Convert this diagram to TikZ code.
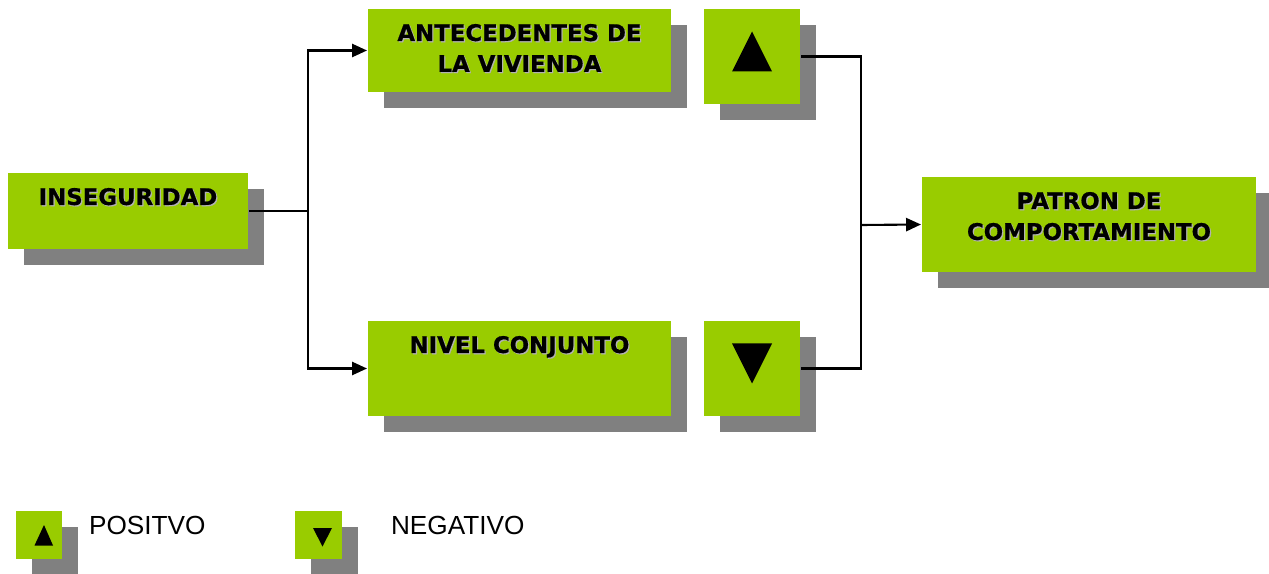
\documentclass[tikz,border=0pt]{standalone}
\usepackage{fontspec}
\newfontfamily\boxfont{DejaVu Sans}[BoldFeatures={FakeBold=0.6}]
\newfontfamily\legfont{Liberation Sans}
\usetikzlibrary{arrows.meta,shadows,calc}
\definecolor{boxgreen}{RGB}{153,204,0}
\newcommand{\shtext}[1]{\leavevmode\rlap{\kern0.7pt\raisebox{-0.7pt}{\color{gray!60}#1}}#1}

\begin{document}
\begin{tikzpicture}[x=0.02cm,y=-0.02cm,>={Triangle[length=8.5pt,width=7.5pt]},line width=1.2pt]
\tikzstyle{box}=[draw=none,fill=boxgreen,inner sep=0pt,drop shadow={shadow xshift=0.32cm,shadow yshift=-0.32cm,fill=gray,opacity=1}]
\tikzstyle{lbl}=[anchor=north,yshift=-0.3cm,inner sep=0pt,align=center,text=black,font=\boxfont\bfseries\fontsize{13}{17.6}\selectfont]
\tikzstyle{legtext}=[anchor=north west,inner sep=0pt,text=black,font=\legfont\fontsize{14.9}{17}\selectfont]
\useasboundingbox (0,0) rectangle (1269,574);

% boxes
\node[box,minimum width=4.8cm,minimum height=1.52cm,label={[lbl]north:\shtext{INSEGURIDAD}}] (inseg) at (128,211) {};
\node[box,minimum width=6.06cm,minimum height=1.66cm,label={[lbl]north:{\shtext{ANTECEDENTES DE}\\\shtext{LA VIVIENDA}}}] (ante) at (519.5,50.5) {};
\node[box,minimum width=6.06cm,minimum height=1.9cm,label={[lbl]north:\shtext{NIVEL CONJUNTO}}] (nivel) at (519.5,368.5) {};
\node[box,minimum width=1.92cm,minimum height=1.9cm] (up) at (752,56.5) {};
\node[box,minimum width=1.92cm,minimum height=1.9cm] (down) at (752,368.5) {};
\node[box,minimum width=6.68cm,minimum height=1.9cm,label={[lbl]north:{\shtext{PATRON DE}\\\shtext{COMPORTAMIENTO}}}] (patron) at (1089,224.5) {};

% signs
\fill ($(up.center)+(-20,15)$) -- ($(up.center)+(20,15)$) -- ($(up.center)+(0,-25)$) -- cycle;
\fill ($(down.center)+(-20,-25)$) -- ($(down.center)+(20,-25)$) -- ($(down.center)+(0,15)$) -- cycle;

% connectors
\coordinate (split) at (308,211);
\coordinate (merge) at (861,225);
\draw (inseg.east) -- (split);
\draw[->] (split) |- (ante.west);
\draw[->] (split) |- (nivel.west);
\draw (up.east) -| (merge);
\draw (down.east) -| (merge);
\draw[->] (merge) -- (patron.west);

% legend
\node[box,minimum width=0.94cm,minimum height=0.96cm] (posbox) at (39,535) {};
\node[box,minimum width=0.94cm,minimum height=0.96cm] (negbox) at (318.5,535) {};
\fill ($(posbox.center)+(-4.5,10.5)$) -- ($(posbox.center)+(14,10.5)$) -- ($(posbox.center)+(5,-10)$) -- cycle;
\fill ($(negbox.center)+(-5.5,-7)$) -- ($(negbox.center)+(13.5,-7)$) -- ($(negbox.center)+(4,11.5)$) -- cycle;
\node[legtext] (postxt) at (88,515) {POSITVO};
\node[legtext] (negtxt) at (390,515) {NEGATIVO};
\end{tikzpicture}
\end{document}
